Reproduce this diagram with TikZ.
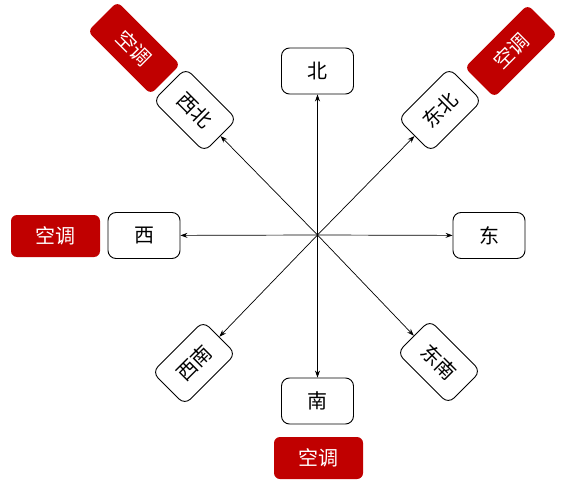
\documentclass[tikz,border=0pt]{standalone}
\usepackage{fontspec}
\newfontfamily\cjk{Noto Sans CJK SC}
\usetikzlibrary{arrows.meta}
\definecolor{acred}{HTML}{C00000}
\begin{document}
\begin{tikzpicture}[x=1pt,y=-1pt,
  dirbox/.style={draw=black,line width=0.9pt,rounded corners=8pt,fill=white,
    minimum width=72pt,minimum height=46pt,inner sep=0pt,
    font=\cjk\fontsize{20}{22}\selectfont},
  acbox/.style={fill=acred,draw=none,rounded corners=6pt,text=white,
    minimum width=89pt,minimum height=42pt,inner sep=0pt,
    font=\cjk\fontsize{20}{22}\selectfont},
  arr/.style={line width=0.7pt,-{Stealth[length=7pt,width=5pt]}}]
\useasboundingbox (0,0) rectangle (565,487);
\coordinate (c) at (317.5,235);
\node[dirbox] (n) at (317.5,71) {北};
\node[dirbox] (s) at (317.5,401) {南};
\node[dirbox] (w) at (144,235.5) {西};
\node[dirbox] (e) at (489,235.5) {东};
\node[dirbox,rotate=-45] (nw) at (195,110) {西北};
\node[dirbox,rotate=45] (ne) at (440,110) {东北};
\node[dirbox,rotate=45] (sw) at (194,363) {西南};
\node[dirbox,rotate=-45] (se) at (439,362) {东南};
\node[acbox] (acw) at (55.5,236) {空调};
\node[acbox] (acs) at (318.5,458) {空调};
\node[acbox,rotate=-45] (acnw) at (134,48) {空调};
\node[acbox,rotate=45] (acne) at (511,51) {空调};
\foreach \t in {n,s,w,e,nw,ne,sw,se}
  \draw[arr] (c) -- (\t);
\end{tikzpicture}
\end{document}
